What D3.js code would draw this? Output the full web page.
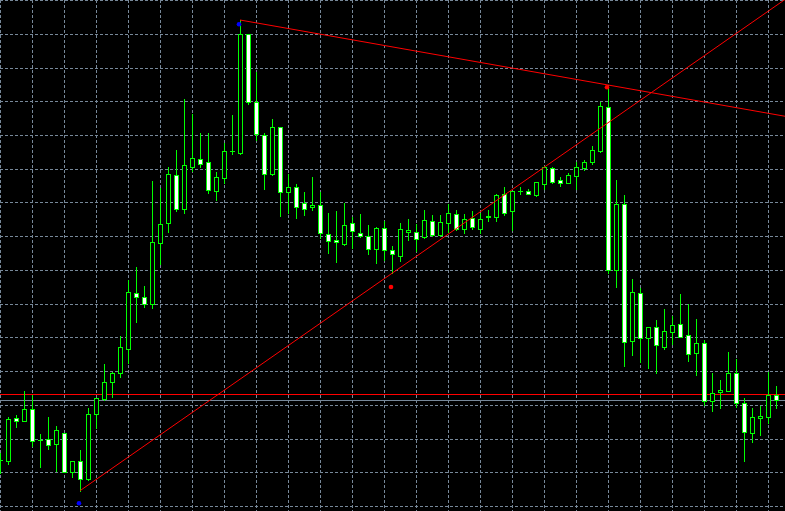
<!DOCTYPE html>
<html>
<head>
<meta charset="utf-8">
<script src="https://cdn.jsdelivr.net/npm/d3@7"></script>
<style>
html,body{margin:0;padding:0;background:#000;overflow:hidden;}
svg{display:block;}
</style>
</head>
<body>
<svg id="chart" width="785" height="511"></svg>
<script>
// OHLC bars (bar index = position in arrays)
const opens  = [1.20460,1.20453,1.20877,1.20847,1.20967,1.20660,1.20667,1.20617,1.20727,1.20337,
1.20447,1.20267,1.20917,1.21070,1.21237,1.21333,1.21570,1.22127,1.22087,1.22017,
1.22627,1.22827,1.23307,1.22973,1.23393,1.23467,1.23437,1.23153,1.23283,1.23547,
1.23527,1.24717,1.24043,1.23707,1.23317,1.23787,1.23137,1.23187,1.23027,1.22987,
1.23010,1.22720,1.22660,1.22623,1.22830,1.22727,1.22703,1.22573,1.22777,1.22560,
1.22503,1.22743,1.22737,1.22687,1.22850,1.22713,1.22833,1.22917,1.22767,1.22883,
1.22773,1.22887,1.22887,1.23117,1.22947,1.23147,1.23150,1.23113,1.23223,1.23377,
1.23257,1.23233,1.23303,1.23383,1.23437,1.23553,1.23993,1.22357,1.23017,1.21647,
1.22127,1.21677,1.21787,1.21593,1.21743,1.21817,1.21707,1.21527,1.21627,1.21053,
1.21137,1.21153,1.21327,1.21027,1.20727,1.20877,1.20887,1.21113];
const highs  = [1.20533,1.20887,1.20907,1.21150,1.21110,1.20720,1.20890,1.20800,1.20730,1.20450,
1.20560,1.20977,1.21085,1.21420,1.21340,1.21700,1.22260,1.22387,1.22200,1.23250,
1.23177,1.23387,1.23560,1.24070,1.23920,1.23727,1.23727,1.23340,1.23633,1.23910,
1.24860,1.24720,1.24340,1.23727,1.23870,1.23790,1.23320,1.23220,1.23140,1.23290,
1.23137,1.22933,1.22950,1.23027,1.22893,1.22920,1.22810,1.22790,1.22850,1.22600,
1.22833,1.22867,1.22817,1.22960,1.22910,1.22910,1.23017,1.22960,1.22917,1.22950,
1.22927,1.22960,1.23120,1.23187,1.23153,1.23187,1.23170,1.23237,1.23400,1.23387,
1.23287,1.23327,1.23437,1.23460,1.23600,1.24037,1.24210,1.23260,1.23110,1.22270,
1.22183,1.21787,1.21860,1.21967,1.21900,1.22120,1.22017,1.21870,1.21660,1.21327,
1.21260,1.21540,1.21470,1.21080,1.20980,1.21000,1.21337,1.21200];
const lows   = [1.20333,1.20423,1.20793,1.20847,1.20600,1.20393,1.20573,1.20350,1.20337,1.20293,
1.20153,1.20260,1.20780,1.21060,1.21087,1.21293,1.21433,1.21843,1.21993,1.21983,
1.22417,1.22743,1.22953,1.22927,1.23353,1.23393,1.23133,1.23060,1.23233,1.23517,
1.23520,1.24020,1.23660,1.23173,1.23310,1.22903,1.22933,1.22883,1.22910,1.22960,
1.22677,1.22533,1.22443,1.22610,1.22577,1.22693,1.22520,1.22433,1.22460,1.22327,
1.22453,1.22657,1.22553,1.22680,1.22700,1.22700,1.22740,1.22760,1.22733,1.22767,
1.22733,1.22853,1.22853,1.22910,1.22760,1.23120,1.23117,1.23103,1.23173,1.23233,
1.23203,1.23227,1.23173,1.23360,1.23417,1.23543,1.22333,1.22193,1.21403,1.21513,
1.21437,1.21383,1.21327,1.21573,1.21617,1.21687,1.21453,1.21313,1.21010,1.20953,
1.20983,1.21150,1.20993,1.20453,1.20643,1.20710,1.20833,1.20977];
const closes = [1.20460,1.20867,1.20853,1.20967,1.20647,1.20660,1.20607,1.20757,1.20337,1.20447,
1.20267,1.20920,1.21077,1.21237,1.21327,1.21587,1.22137,1.22087,1.22017,1.22637,
1.22817,1.23317,1.22967,1.23407,1.23477,1.23423,1.23157,1.23287,1.23547,1.23547,
1.24717,1.24037,1.23717,1.23320,1.23787,1.23137,1.23187,1.22993,1.22967,1.23010,
1.22727,1.22647,1.22637,1.22807,1.22747,1.22703,1.22567,1.22780,1.22557,1.22523,
1.22767,1.22760,1.22673,1.22857,1.22713,1.22837,1.22927,1.22773,1.22867,1.22787,
1.22867,1.22900,1.23107,1.22927,1.23153,1.23147,1.23123,1.23237,1.23387,1.23243,
1.23227,1.23310,1.23387,1.23437,1.23557,1.24000,1.22357,1.23017,1.21637,1.22137,
1.21677,1.21787,1.21607,1.21747,1.21807,1.21693,1.21517,1.21627,1.21047,1.21127,
1.21157,1.21327,1.21027,1.20737,1.20893,1.20897,1.21107,1.21060];

// horizontal grid price levels
const gridPrices = [1.20000,1.20337,1.20675,1.21012,1.21349,1.21687,1.22024,1.22361,
1.22699,1.23036,1.23373,1.23711,1.24048,1.24385,1.24723,1.25060];
// vertical grid every 4 bars
const gridBars = d3.range(0, 100, 4);

// trend lines: [bar1, price1, bar2, price2]
const trendUpBars = [10, 49];
const trendUpPrices = [1.20153, 1.22327];
const trendDownBars = [30, 76];
const trendDownPrices = [1.24860, 1.24210];
// horizontal level and bid line
const levelPrice = 1.21120;
const bidPrice = 1.21060;
// markers
const blueMarkBars = [10, 30];
const blueMarkPrices = [1.20027, 1.24817];
const redMarkBars = [49, 76];
const redMarkPrices = [1.22190, 1.24187];

const W = 785, H = 511;
const svg = d3.select("#chart");
svg.append("rect").attr("width", W).attr("height", H).attr("fill", "#000");

const x = d3.scaleLinear().domain([0, 98.125]).range([0, W]);
const y = d3.scaleLinear().domain([1.19950, 1.25060]).range([H, 0]);
const px = v => Math.round(v) + 0.5;

const GRID = "#778899";
const gG = svg.append("g");
gG.selectAll("line.h").data(gridPrices).join("line")
  .attr("x1", 0).attr("x2", W)
  .attr("y1", d => px(y(d))).attr("y2", d => px(y(d)))
  .attr("stroke", GRID).attr("stroke-width", 1).attr("stroke-dasharray", "3,2");
gG.selectAll("line.v").data(gridBars).join("line")
  .attr("y1", 0).attr("y2", H)
  .attr("x1", d => px(x(d))).attr("x2", d => px(x(d)))
  .attr("stroke", GRID).attr("stroke-width", 1).attr("stroke-dasharray", "3,2");

// horizontal level & bid
svg.append("line").attr("x1", 0).attr("x2", W)
  .attr("y1", px(y(levelPrice))).attr("y2", px(y(levelPrice)))
  .attr("stroke", "#ff0000").attr("stroke-width", 1);
svg.append("line").attr("x1", 0).attr("x2", W)
  .attr("y1", px(y(bidPrice))).attr("y2", px(y(bidPrice)))
  .attr("stroke", GRID).attr("stroke-width", 1);

// candles
const bars = opens.map((o, i) => ({i, o, h: highs[i], l: lows[i], c: closes[i]}));
const GREEN = "#00ff00";
const cg = svg.append("g");
bars.forEach(d => {
  const cx = px(x(d.i));
  cg.append("line").attr("x1", cx).attr("x2", cx)
    .attr("y1", Math.round(y(d.h))).attr("y2", Math.round(y(d.l)) + 1)
    .attr("stroke", GREEN).attr("stroke-width", 1);
  const top = Math.round(y(Math.max(d.o, d.c)));
  const bot = Math.round(y(Math.min(d.o, d.c)));
  if (bot - top < 1) {
    cg.append("line").attr("x1", cx - 2.5).attr("x2", cx + 2.5)
      .attr("y1", top + 0.5).attr("y2", top + 0.5)
      .attr("stroke", GREEN).attr("stroke-width", 1);
  } else {
    cg.append("rect").attr("x", cx - 2).attr("width", 4)
      .attr("y", top + 0.5).attr("height", bot - top)
      .attr("fill", d.c >= d.o ? "#000" : "#fff")
      .attr("stroke", GREEN).attr("stroke-width", 1);
  }
});

// trend rays
function ray(bs, ps, color) {
  const slope = (ps[1] - ps[0]) / (bs[1] - bs[0]);
  const endBar = x.domain()[1];
  const endPrice = ps[0] + slope * (endBar - bs[0]);
  svg.append("line")
    .attr("x1", x(bs[0])).attr("y1", y(ps[0]))
    .attr("x2", x(endBar)).attr("y2", y(endPrice))
    .attr("stroke", color).attr("stroke-width", 1);
}
ray(trendUpBars, trendUpPrices, "#ff0000");
ray(trendDownBars, trendDownPrices, "#ff0000");

// markers
svg.selectAll("circle.b").data(blueMarkBars).join("circle")
  .attr("cx", (d) => x(d) - 1).attr("cy", (d, k) => y(blueMarkPrices[k]))
  .attr("r", 2.3).attr("fill", "#0000ff");
svg.selectAll("circle.r").data(redMarkBars).join("circle")
  .attr("cx", (d) => x(d) - 1).attr("cy", (d, k) => y(redMarkPrices[k]))
  .attr("r", 2.3).attr("fill", "#ff0000");
</script>
</body>
</html>
